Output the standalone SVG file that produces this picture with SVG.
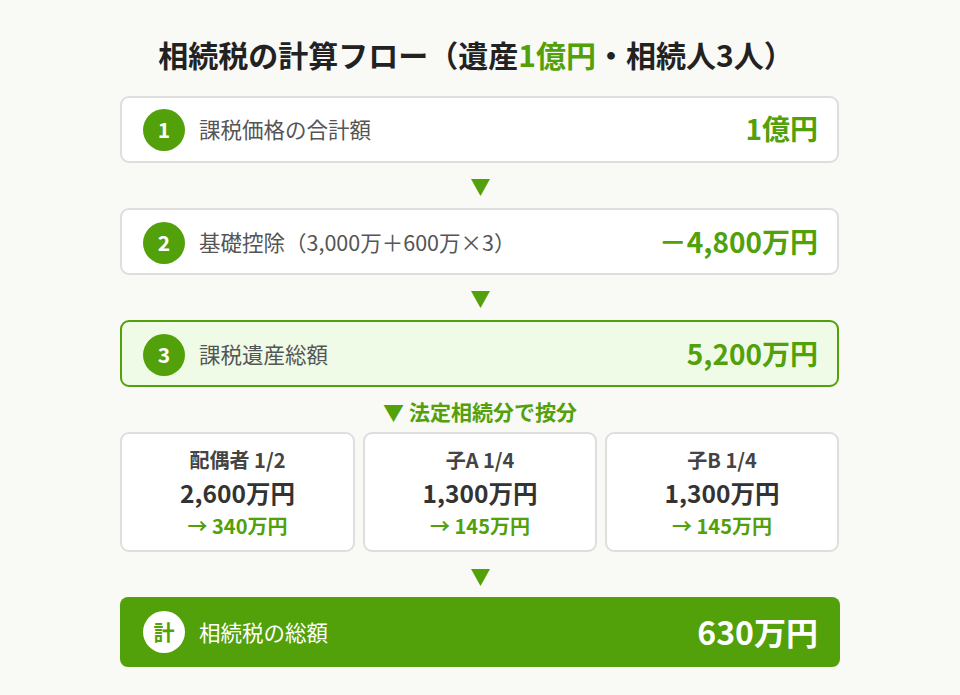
<svg xmlns="http://www.w3.org/2000/svg" width="960" height="695" viewBox="0 0 960 695">
<style>
text{font-family:"Noto Sans CJK JP","Noto Sans",sans-serif}
.box{fill:#fff;stroke:#dedede;stroke-width:2}
.num{fill:#52a00a}
.numt{fill:#fff;font-size:21px;font-weight:700;text-anchor:middle}
.lbl{fill:#555;font-size:21.5px}
.val{fill:#52a00a;font-size:28px;font-weight:700;text-anchor:end}
.arr{fill:#52a00a}
.sh{fill:#444;font-size:20px;font-weight:700;text-anchor:middle}
.sa{fill:#333;font-size:24.5px;font-weight:700;text-anchor:middle}
.sv{fill:#52a00a;font-size:20px;font-weight:700;text-anchor:middle}
</style>
<rect width="960" height="695" fill="#f9f9f5"/>
<text x="476" y="67" text-anchor="middle" font-size="30" font-weight="700" fill="#222">相続税の計算フロー（遺産<tspan fill="#52a00a">1億円</tspan>・相続人3人）</text>
<g id="step1">
<rect class="box" x="121" y="97" width="717" height="65" rx="8"/>
<circle class="num" cx="164" cy="130" r="21"/>
<text class="numt" x="164" y="138">1</text>
<text class="lbl" x="199" y="138">課税価格の合計額</text>
<text class="val" x="818" y="140">1億円</text>
</g>
<g id="step2">
<rect class="box" x="121" y="209" width="717" height="65" rx="8"/>
<circle class="num" cx="164" cy="243" r="21"/>
<text class="numt" x="164" y="251">2</text>
<text class="lbl" x="199" y="251">基礎控除（3,000万＋600万×3）</text>
<text class="val" x="818" y="253">－4,800万円</text>
</g>
<g id="step3">
<rect x="121" y="321" width="717" height="65" rx="8" fill="#effbe6" stroke="#52a00a" stroke-width="2"/>
<circle class="num" cx="164" cy="355" r="21"/>
<text class="numt" x="164" y="363">3</text>
<text class="lbl" x="199" y="363">課税遺産総額</text>
<text class="val" x="818" y="365">5,200万円</text>
</g>
<g id="connectors">
<polygon class="arr" points="471,179 490,179 480.5,196"/>
<polygon class="arr" points="471,291 490,291 480.5,308"/>
<polygon class="arr" points="471,569 490,569 480.5,586"/>
<text x="480" y="420" text-anchor="middle" font-size="21" font-weight="700" fill="#52a00a">▼ 法定相続分で按分</text>
</g>
<g id="spouse">
<rect class="box" x="121" y="433" width="233" height="118" rx="8"/>
<text class="sh" x="237.5" y="468">配偶者 1/2</text>
<text class="sa" x="237.5" y="503">2,600万円</text>
<text class="sv" x="237.5" y="534">→ 340万円</text>
</g>
<g id="childA">
<rect class="box" x="364" y="433" width="232" height="118" rx="8"/>
<text class="sh" x="480" y="468">子A 1/4</text>
<text class="sa" x="480" y="503">1,300万円</text>
<text class="sv" x="480" y="534">→ 145万円</text>
</g>
<g id="childB">
<rect class="box" x="606" y="433" width="232" height="118" rx="8"/>
<text class="sh" x="722" y="468">子B 1/4</text>
<text class="sa" x="722" y="503">1,300万円</text>
<text class="sv" x="722" y="534">→ 145万円</text>
</g>
<g id="total">
<rect x="120" y="597" width="720" height="70" rx="8" fill="#52a00a"/>
<circle cx="164" cy="632" r="21" fill="#fff"/>
<text x="164" y="640" text-anchor="middle" font-size="21" font-weight="700" fill="#52a00a">計</text>
<text x="199" y="641" font-size="21.5" fill="#fff">相続税の総額</text>
<text x="818" y="645" text-anchor="end" font-size="32" font-weight="700" fill="#fff">630万円</text>
</g>
</svg>
